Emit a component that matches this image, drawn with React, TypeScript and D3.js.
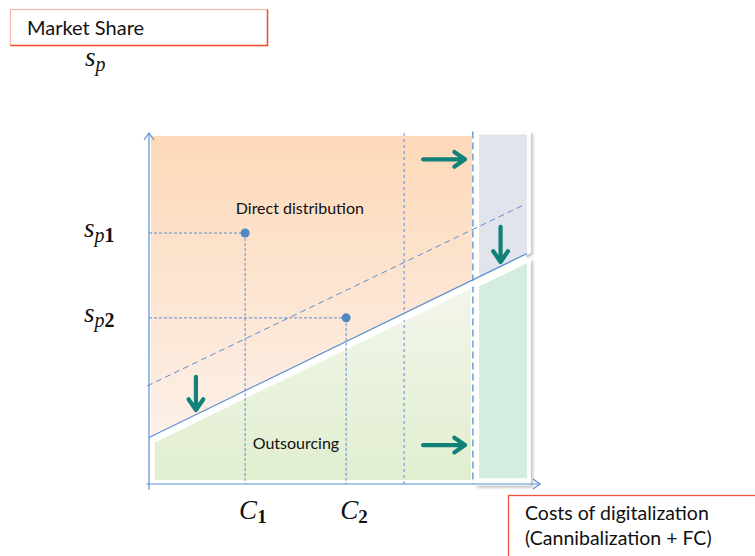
import * as d3 from 'd3';

// diagram values, in "cost" (x) and "market share" (y) units
const costTicks = [
  { name: 'C', sub: '1', x: 2.95 },
  { name: 'C', sub: '2', x: 6.05 },
];
const shareTicks = [
  { name: 's', sub: 'p', idx: '1', y: 8.58 },
  { name: 's', sub: 'p', idx: '2', y: 5.68 },
];
const choicePoints = [
  { x: 2.95, y: 8.58 },
  { x: 6.05, y: 5.68 },
];
const frontier = [[0, 1.59], [11.6, 7.88]];
const shiftedFrontier = [[-0.06, 3.35], [11.5, 9.54]];
const boundaries = [7.83, 9.94];
const shiftArrows = [
  { x1: 8.41, y1: 11.1, x2: 9.7, y2: 11.1 },
  { x1: 8.41, y1: 1.33, x2: 9.7, y2: 1.33 },
  { x1: 1.44, y1: 3.66, x2: 1.44, y2: 2.53 },
  { x1: 10.79, y1: 8.79, x2: 10.79, y2: 7.59 },
];
const regionLabels = [
  { text: 'Direct distribution', x: 4.63, y: 9.23 },
  { text: 'Outsourcing', x: 4.51, y: 1.2 },
];

const W = 755;
const H = 556;
const blue = '#5b8ed0';
const teal = '#108279';
const sans = 'Lato, "Open Sans", sans-serif';
const serif = '"Liberation Serif", "DejaVu Serif", serif';

export default function App() {
  const x = d3.scaleLinear().domain([0, 12]).range([149, 540]);
  const y = d3.scaleLinear().domain([0, 12]).range([484, 133]);

  const slope = (frontier[1][1] - frontier[0][1]) / (frontier[1][0] - frontier[0][0]);
  const fy = (v: number) => frontier[0][1] + slope * (v - frontier[0][0]);
  const line = d3.line<number[]>().x(d => x(d[0])).y(d => y(d[1]));
  const poly = (pts: number[][]) => line(pts) + 'Z';

  const top = 11.9;
  const bottom = 0.14;
  const gap = 0.27;
  const orange = poly([[0.06, top], [9.91, top], [9.91, fy(9.91)], [0.06, fy(0.06)]]);
  const green = poly([[0.18, fy(0.18) - gap], [9.88, fy(9.88) - gap], [9.88, bottom], [0.18, bottom]]);

  const pL = 10.13;
  const pR = 11.6;
  const cardL = 10.0;
  const cardR = 11.72;
  const grayCard = poly([[cardL, 12.05], [cardR, 12.05], [cardR, fy(cardR) - 0.05], [cardL, fy(cardL) - 0.05]]);
  const grayPanel = poly([[pL, 11.95], [pR, 11.95], [pR, fy(pR)], [pL, fy(pL)]]);
  const tealCard = poly([[cardL, fy(cardL) - 0.22], [cardR, fy(cardR) - 0.22], [cardR, -0.05], [cardL, -0.05]]);
  const tealPanel = poly([[pL, fy(pL) - 0.33], [pR, fy(pR) - 0.33], [pR, 0.2], [pL, 0.2]]);

  const arrowPath = (a: typeof shiftArrows[0]) => {
    const x1 = x(a.x1), y1 = y(a.y1), x2 = x(a.x2), y2 = y(a.y2);
    const ang = Math.atan2(y2 - y1, x2 - x1);
    const len = 13;
    const spread = 0.6;
    const hx1 = x2 - len * Math.cos(ang - spread), hy1 = y2 - len * Math.sin(ang - spread);
    const hx2 = x2 - len * Math.cos(ang + spread), hy2 = y2 - len * Math.sin(ang + spread);
    return `M${x1},${y1}L${x2},${y2}M${hx1},${hy1}L${x2},${y2}L${hx2},${hy2}`;
  };

  return (
    <svg width={W} height={H} viewBox={`0 0 ${W} ${H}`}
      style={{ position: 'absolute', left: 0, top: 0, background: '#fff' }}>
      <defs>
        <linearGradient id="orangeGrad" gradientUnits="userSpaceOnUse" x1="0" y1={y(top)} x2="0" y2={y(fy(0))}>
          <stop offset="0" stopColor="#fdd9b9" />
          <stop offset="1" stopColor="#fcf0e8" />
        </linearGradient>
        <linearGradient id="greenGrad" gradientUnits="userSpaceOnUse" x1="0" y1={y(fy(9.88))} x2="0" y2={y(bottom)}>
          <stop offset="0" stopColor="#f3f6ec" />
          <stop offset="1" stopColor="#e1eecf" />
        </linearGradient>
        <filter id="shadow" x="-20%" y="-10%" width="140%" height="120%">
          <feDropShadow dx="2" dy="2" stdDeviation="1.6" floodColor="#888" floodOpacity="0.55" />
        </filter>
      </defs>

      {/* title box */}
      <rect x={10.5} y={9.5} width={257} height={36} fill="#fff" stroke="#f6b9a9" strokeWidth={1.2} />
      <path d="M10.5,45.5H267.5V9.5" fill="none" stroke="#f0502c" strokeWidth={1.5} />
      <text x={27} y={35} fontFamily={sans} fontSize={20} fill="#111">Market Share</text>
      <text x={85} y={66} fontFamily={serif} fontStyle="italic" fontSize={27} fill="#111">
        s<tspan dy={5} fontSize={20}>p</tspan>
      </text>

      {/* regions */}
      <path d={orange} fill="url(#orangeGrad)" />
      <path d={green} fill="url(#greenGrad)" />
      <path d={grayCard} fill="#fff" filter="url(#shadow)" />
      <path d={tealCard} fill="#fff" filter="url(#shadow)" />
      <path d={grayPanel} fill="#e2e4eb" />
      <path d={tealPanel} fill="#d3ede1" />

      {/* boundaries */}
      <line x1={x(boundaries[0])} x2={x(boundaries[0])} y1={y(12)} y2={y(0)}
        stroke={blue} strokeWidth={1} strokeDasharray="3,3" />
      <line x1={x(boundaries[1])} x2={x(boundaries[1])} y1={y(12.05)} y2={y(0)}
        stroke={blue} strokeWidth={1.3} strokeDasharray="7,4" />

      {/* frontiers */}
      <path d={line(shiftedFrontier) || ''} fill="none" stroke={blue} strokeWidth={1} strokeDasharray="6,4" />
      <path d={line(frontier) || ''} fill="none" stroke="#fff" strokeWidth={5} transform="translate(0,4)" />
      <path d={line(frontier) || ''} fill="none" stroke={blue} strokeWidth={1.2} />

      {/* guides and points */}
      {choicePoints.map((p, i) => (
        <g key={i}>
          <line x1={x(0)} x2={x(p.x)} y1={y(p.y)} y2={y(p.y)} stroke={blue} strokeDasharray="3,2" />
          <line x1={x(p.x)} x2={x(p.x)} y1={y(p.y)} y2={y(0)} stroke={blue} strokeDasharray="3,2" />
          <circle cx={x(p.x)} cy={y(p.y)} r={4.5} fill="#5088c6" />
        </g>
      ))}

      {/* axes */}
      <line x1={x(0)} x2={x(0)} y1={y(-0.2)} y2={y(12)} stroke={blue} strokeWidth={1.2} />
      <path d={`M${x(0) - 5},${y(12) + 7}L${x(0)},${y(12)}L${x(0) + 5},${y(12) + 7}`} fill="none" stroke={blue} strokeWidth={1.2} />
      <line x1={x(-0.08)} x2={x(12)} y1={y(0)} y2={y(0)} stroke={blue} strokeWidth={1.2} />
      <path d={`M${x(12) - 7},${y(0) - 5}L${x(12)},${y(0)}L${x(12) - 7},${y(0) + 5}`} fill="none" stroke={blue} strokeWidth={1.2} />

      {/* arrows */}
      {shiftArrows.map((a, i) => (
        <path key={i} d={arrowPath(a)} fill="none" stroke={teal} strokeWidth={4.2} strokeLinecap="round" strokeLinejoin="round" />
      ))}

      {/* labels */}
      {regionLabels.map((l, i) => (
        <text key={i} x={x(l.x)} y={y(l.y)} textAnchor="middle" fontFamily={sans} fontSize={16} fill="#111">{l.text}</text>
      ))}
      {shareTicks.map((t, i) => (
        <text key={i} x={84} y={y(t.y) + 4} fontFamily={serif} fontSize={27} fill="#111">
          <tspan fontStyle="italic">{t.name}</tspan>
          <tspan dy={5} fontSize={20} fontStyle="italic">{t.sub}</tspan>
          <tspan fontSize={20} fontWeight="bold">{t.idx}</tspan>
        </text>
      ))}
      {costTicks.map((t, i) => (
        <text key={i} x={x(t.x) - 6} y={519} fontFamily={serif} fontSize={27} fill="#111">
          <tspan fontStyle="italic">{t.name}</tspan>
          <tspan dy={4} fontSize={19} fontWeight="bold">{t.sub}</tspan>
        </text>
      ))}

      {/* x axis title box */}
      <rect x={508.5} y={495.5} width={260} height={80} fill="#fff" stroke="#f0553a" strokeWidth={1.3} />
      <text x={525} y={520} fontFamily={sans} fontSize={19.5} fill="#111">Costs of digitalization</text>
      <text x={525} y={545} fontFamily={sans} fontSize={19.5} fill="#111">(Cannibalization + FC)</text>
    </svg>
  );
}
